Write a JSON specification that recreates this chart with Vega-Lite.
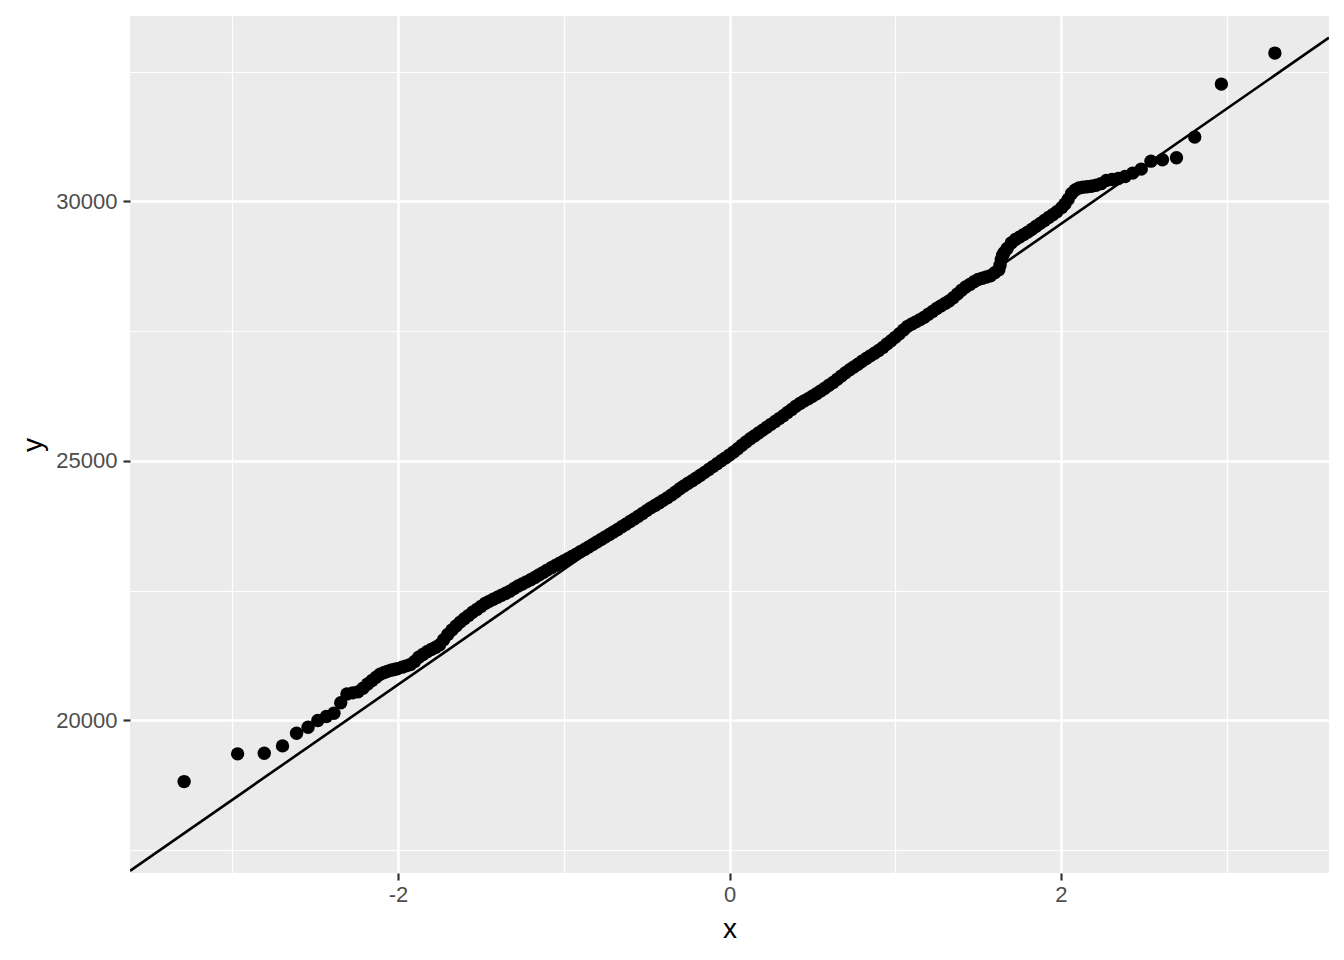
{
  "$schema": "https://vega.github.io/schema/vega-lite/v6.json",
  "width": 1199,
  "height": 857,
  "autosize": {"type": "none"},
  "padding": {"left": 130, "top": 16, "right": 15, "bottom": 87},
  "background": "white",
  "config": {
    "view": {"fill": "#EBEBEB", "stroke": null},
    "axis": {
      "domain": false,
      "labelFont": "Liberation Sans",
      "labelFontSize": 22,
      "labelColor": "#4D4D4D",
      "tickColor": "#333333",
      "tickSize": 7,
      "tickWidth": 2.2,
      "gridColor": "#FFFFFF",
      "titleFont": "Liberation Sans",
      "titleFontSize": 28,
      "titleFontWeight": "normal",
      "titleColor": "#000000"
    }
  },
  "datasets": {
    "pts": [
      {"x":-3.2905,"y":18821},{"x":-2.9677,"y":19355},{"x":-2.807,"y":19368},{"x":-2.6968,"y":19509},{"x":-2.6121,"y":19753},{"x":-2.5427,"y":19869},{"x":-2.4838,"y":19997},{"x":-2.4324,"y":20074},{"x":-2.3867,"y":20138},{"x":-2.3455,"y":20340},{"x":-2.308,"y":20510},{"x":-2.2734,"y":20530},{"x":-2.2414,"y":20550},{"x":-2.2115,"y":20620},{"x":-2.1834,"y":20700},{"x":-2.157,"y":20770},{"x":-2.132,"y":20830},{"x":-2.1082,"y":20890},{"x":-2.0856,"y":20920},{"x":-2.064,"y":20945},{"x":-2.0435,"y":20965},{"x":-2.0237,"y":20980},{"x":-2.0047,"y":20995},
      {"x":-1.975,"y":21026},{"x":-1.95,"y":21051},{"x":-1.925,"y":21077},{"x":-1.9,"y":21134},{"x":-1.875,"y":21215},{"x":-1.85,"y":21269},{"x":-1.825,"y":21321},{"x":-1.8,"y":21366},{"x":-1.775,"y":21403},{"x":-1.75,"y":21451},{"x":-1.725,"y":21553},{"x":-1.7,"y":21656},{"x":-1.675,"y":21740},{"x":-1.65,"y":21820},{"x":-1.625,"y":21893},{"x":-1.6,"y":21957},{"x":-1.575,"y":22019},{"x":-1.55,"y":22082},{"x":-1.525,"y":22138},{"x":-1.5,"y":22195},{"x":-1.475,"y":22251},{"x":-1.45,"y":22293},{"x":-1.425,"y":22333},{"x":-1.4,"y":22373},{"x":-1.375,"y":22411},{"x":-1.35,"y":22450},{"x":-1.325,"y":22490},{"x":-1.3,"y":22541},{"x":-1.275,"y":22588},{"x":-1.25,"y":22629},{"x":-1.225,"y":22669},{"x":-1.2,"y":22710},{"x":-1.175,"y":22752},{"x":-1.15,"y":22800},{"x":-1.125,"y":22847},{"x":-1.1,"y":22895},{"x":-1.075,"y":22942},{"x":-1.05,"y":22985},{"x":-1.025,"y":23027},{"x":-1.0,"y":23070},
      {"x":-0.975,"y":23113},{"x":-0.95,"y":23159},{"x":-0.925,"y":23203},{"x":-0.9,"y":23248},{"x":-0.875,"y":23293},{"x":-0.85,"y":23341},{"x":-0.825,"y":23388},{"x":-0.8,"y":23437},{"x":-0.775,"y":23484},{"x":-0.75,"y":23533},{"x":-0.725,"y":23581},{"x":-0.7,"y":23629},{"x":-0.675,"y":23677},{"x":-0.65,"y":23729},{"x":-0.625,"y":23780},{"x":-0.6,"y":23831},{"x":-0.575,"y":23882},{"x":-0.55,"y":23935},{"x":-0.525,"y":23988},{"x":-0.5,"y":24041},{"x":-0.475,"y":24094},{"x":-0.45,"y":24142},{"x":-0.425,"y":24190},{"x":-0.4,"y":24239},{"x":-0.375,"y":24287},{"x":-0.35,"y":24344},{"x":-0.325,"y":24402},{"x":-0.3,"y":24461},{"x":-0.275,"y":24516},{"x":-0.25,"y":24568},{"x":-0.225,"y":24618},{"x":-0.2,"y":24670},{"x":-0.175,"y":24722},{"x":-0.15,"y":24778},{"x":-0.125,"y":24833},{"x":-0.1,"y":24889},{"x":-0.075,"y":24944},{"x":-0.05,"y":25001},{"x":-0.025,"y":25057},{"x":0.0,"y":25112},
      {"x":0.025,"y":25170},{"x":0.05,"y":25235},{"x":0.075,"y":25299},{"x":0.1,"y":25364},{"x":0.125,"y":25425},{"x":0.15,"y":25481},{"x":0.175,"y":25536},{"x":0.2,"y":25592},{"x":0.225,"y":25647},{"x":0.25,"y":25703},{"x":0.275,"y":25758},{"x":0.3,"y":25814},{"x":0.325,"y":25870},{"x":0.35,"y":25931},{"x":0.375,"y":25991},{"x":0.4,"y":26052},{"x":0.425,"y":26107},{"x":0.45,"y":26153},{"x":0.475,"y":26198},{"x":0.5,"y":26245},{"x":0.525,"y":26292},{"x":0.55,"y":26347},{"x":0.575,"y":26400},{"x":0.6,"y":26455},{"x":0.625,"y":26509},{"x":0.65,"y":26572},{"x":0.675,"y":26634},{"x":0.7,"y":26696},{"x":0.725,"y":26754},{"x":0.75,"y":26809},{"x":0.775,"y":26863},{"x":0.8,"y":26918},{"x":0.825,"y":26971},{"x":0.85,"y":27023},{"x":0.875,"y":27074},{"x":0.9,"y":27127},{"x":0.925,"y":27185},{"x":0.95,"y":27250},{"x":0.975,"y":27314},{"x":1.0,"y":27379},
      {"x":1.025,"y":27450},{"x":1.05,"y":27523},{"x":1.075,"y":27591},{"x":1.1,"y":27635},{"x":1.125,"y":27678},{"x":1.15,"y":27721},{"x":1.175,"y":27765},{"x":1.2,"y":27823},{"x":1.225,"y":27879},{"x":1.25,"y":27937},{"x":1.275,"y":27985},{"x":1.3,"y":28033},{"x":1.325,"y":28080},{"x":1.35,"y":28144},{"x":1.375,"y":28215},{"x":1.4,"y":28286},{"x":1.425,"y":28348},{"x":1.45,"y":28399},{"x":1.475,"y":28450},{"x":1.5,"y":28494},{"x":1.525,"y":28518},{"x":1.55,"y":28542},{"x":1.575,"y":28566},{"x":1.6,"y":28624},{"x":1.625,"y":28681},{"x":1.632,"y":28770},{"x":1.64,"y":28880},{"x":1.648,"y":28960},{"x":1.656,"y":29010},{"x":1.675,"y":29091},{"x":1.7,"y":29199},{"x":1.725,"y":29263},{"x":1.75,"y":29310},{"x":1.775,"y":29359},{"x":1.8,"y":29407},{"x":1.825,"y":29462},{"x":1.85,"y":29518},{"x":1.875,"y":29575},{"x":1.9,"y":29631},{"x":1.925,"y":29687},{"x":1.95,"y":29742},{"x":1.975,"y":29799},
      {"x":2.0047,"y":29880},{"x":2.0237,"y":29950},{"x":2.0435,"y":30040},{"x":2.064,"y":30150},{"x":2.0856,"y":30220},{"x":2.1082,"y":30255},{"x":2.132,"y":30270},{"x":2.157,"y":30280},{"x":2.1834,"y":30290},{"x":2.2115,"y":30310},{"x":2.2414,"y":30340},{"x":2.2734,"y":30400},{"x":2.308,"y":30420},{"x":2.3455,"y":30439},{"x":2.3867,"y":30478},{"x":2.4324,"y":30543},{"x":2.4838,"y":30620},{"x":2.5427,"y":30774},{"x":2.6121,"y":30800},{"x":2.6968,"y":30838},{"x":2.807,"y":31237},{"x":2.9677,"y":32258},{"x":3.2905,"y":32855}
    ],
    "qqline": [
      {"x": -3.617, "y": 17101},
      {"x": 3.617, "y": 33153}
    ]
  },
  "encoding": {
    "x": {
      "field": "x",
      "type": "quantitative",
      "scale": {"domain": [-3.617, 3.617], "nice": false, "zero": false},
      "axis": {
        "title": "x",
        "values": [-3, -2, -1, 0, 1, 2, 3],
        "labelExpr": "datum.value % 2 === 0 ? '' + datum.value : ''",
        "tickOpacity": {"condition": {"test": "datum.value % 2 !== 0", "value": 0}, "value": 1},
        "gridWidth": {"condition": {"test": "datum.value % 2 !== 0", "value": 1.2}, "value": 2.4},
        "labelPadding": 4,
        "titlePadding": 10
      }
    },
    "y": {
      "field": "y",
      "type": "quantitative",
      "scale": {"domain": [17060, 33570], "nice": false, "zero": false},
      "axis": {
        "title": "y",
        "values": [17500, 20000, 22500, 25000, 27500, 30000, 32500],
        "labelExpr": "datum.value % 5000 === 0 ? '' + datum.value : ''",
        "tickOpacity": {"condition": {"test": "datum.value % 5000 !== 0", "value": 0}, "value": 1},
        "gridWidth": {"condition": {"test": "datum.value % 5000 !== 0", "value": 1.2}, "value": 2.4},
        "labelPadding": 6,
        "titlePadding": 8
      }
    }
  },
  "layer": [
    {
      "data": {"name": "pts"},
      "mark": {"type": "circle", "size": 180, "color": "#000000", "opacity": 1}
    },
    {
      "data": {"name": "qqline"},
      "mark": {"type": "line", "color": "#000000", "strokeWidth": 2.6, "clip": true}
    }
  ]
}
